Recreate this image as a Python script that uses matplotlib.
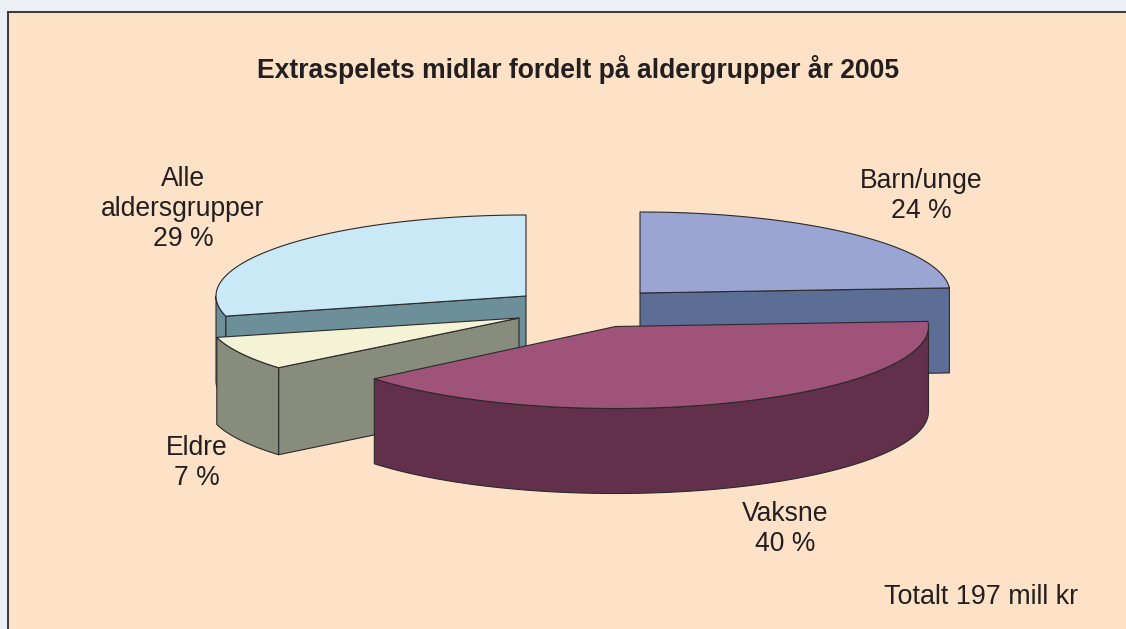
import numpy as np
import matplotlib
matplotlib.use("Agg")
import matplotlib.pyplot as plt
from matplotlib.patches import Polygon, Rectangle

plt.rcParams['font.family'] = ['Liberation Sans', 'DejaVu Sans']

categories = ['Barn/unge', 'Vaksne', 'Eldre', 'Alle\naldersgrupper']
values = [24, 40, 7, 29]
total_label = 'Totalt 197 mill kr'
title = 'Extraspelets midlar fordelt på aldergrupper år 2005'

centers = [(640, 293), (615.5, 326.5), (519, 318), (526, 296)]
radii_x = [310, 313, 312, 310]
radii_y = [81, 82, 78, 81]
top_colors = ['#9AA5D3', '#A05378', '#F5F3D6', '#C9E9F6']
side_colors = ['#5C6E96', '#62304B', '#888C7C', '#6C8F9A']
label_pos = [(921, 196.5), (785, 529), (197, 463), (183, 209)]
draw_order = [0, 3, 2, 1]
# which cut edge of each slice faces the viewer: 0 = start angle, 1 = end angle, None = neither
cut_face = [1, None, 0, 0]
depths = [85, 85, 87, 85]
EDGE = '#2a2a2a'

fig = plt.figure(figsize=(11.26, 6.29), dpi=100, facecolor='#ECF0F4')
ax = fig.add_axes([0, 0, 1, 1])
ax.set_xlim(0, 1126)
ax.set_ylim(629, 0)
ax.axis('off')

ax.add_patch(Rectangle((8, 12), 1130, 630, facecolor='#FEE2C8',
                       edgecolor='#3a3636', linewidth=1.4, zorder=0))


def rim(i, t):
    cx, cy = centers[i]
    return np.column_stack([cx + radii_x[i] * np.sin(t), cy - radii_y[i] * np.cos(t)])


fractions = np.cumsum([0] + values) / sum(values)
z = 1
kw = dict(edgecolor=EDGE, linewidth=0.8, joinstyle='round')
for i in draw_order:
    t0, t1 = 2 * np.pi * fractions[i], 2 * np.pi * fractions[i + 1]
    apex = np.array(centers[i], dtype=float)
    drop = np.array([0, depths[i]])

    if cut_face[i] is not None:
        p = rim(i, np.array([(t0, t1)[cut_face[i]]]))[0]
        ax.add_patch(Polygon([apex, p, p + drop, apex + drop],
                             facecolor=side_colors[i], zorder=z, **kw))
        z += 1

    # outer wall: the part of the rim on the viewer's side
    a0, a1 = max(t0, np.pi / 2), min(t1, 3 * np.pi / 2)
    if a1 > a0:
        r = rim(i, np.linspace(a0, a1, 200))
        ax.add_patch(Polygon(np.vstack([r, (r + drop)[::-1]]),
                             facecolor=side_colors[i], zorder=z, **kw))
        z += 1

    # top
    ax.add_patch(Polygon(np.vstack([apex, rim(i, np.linspace(t0, t1, 300))]),
                         facecolor=top_colors[i], zorder=z, **kw))
    z += 1

ZT = z + 5
for i, (x, y) in enumerate(label_pos):
    ax.text(x, y, f'{categories[i]}\n{values[i]} %', ha='center', va='center',
            fontsize=19.1, color='#231F20', linespacing=1.2, zorder=ZT)

ax.text(578, 69, title, ha='center', va='center', fontsize=19.1,
        fontweight='bold', color='#231F20', zorder=ZT)
ax.text(1078, 597, total_label, ha='right', va='center', fontsize=19.4,
        color='#231F20', zorder=ZT)

fig.savefig('out.png', dpi=100, facecolor=fig.get_facecolor())
